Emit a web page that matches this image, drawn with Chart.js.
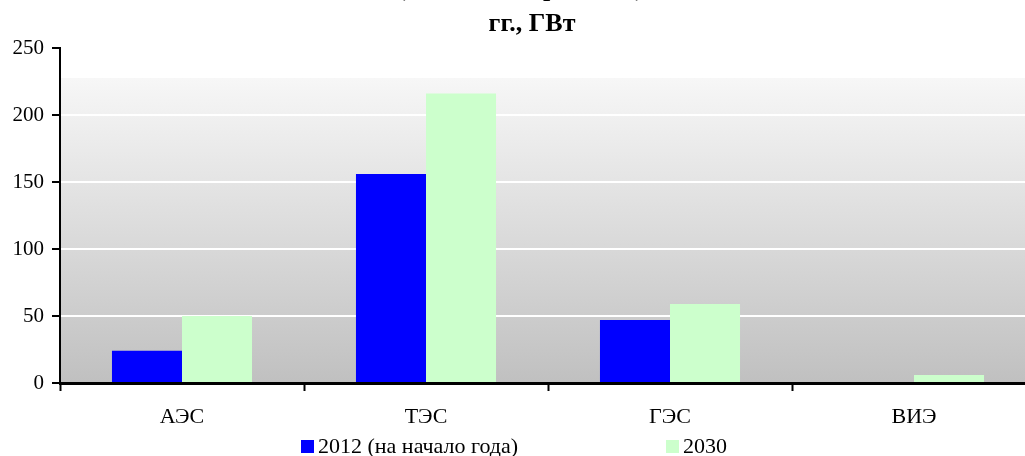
<!DOCTYPE html>
<html>
<head>
<meta charset="utf-8">
<script src="https://cdn.jsdelivr.net/npm/chart.js@4/dist/chart.umd.min.js"></script>
<style>
  html, body { margin: 0; padding: 0; background: #fff; overflow: hidden; }
  #wrap { width: 1040px; height: 456px; }
</style>
</head>
<body>
<div id="wrap"><canvas id="powerChart" width="1040" height="456"></canvas></div>
<script>
const categories = ['АЭС', 'ТЭС', 'ГЭС', 'ВИЭ'];
const values2012 = [24, 156, 47, 0];
const values2030 = [50, 216, 59, 6];
const seriesNames = ['2012 (на начало года)', '2030'];
const yTicks = [0, 50, 100, 150, 200, 250];
const titleLines = ['Установленная мощность электростанций России в 2012-2030', 'гг., ГВт'];

const serif = '"Liberation Serif", "DejaVu Serif", serif';

// gray gradient behind the bars
const plotBackground = {
    id: 'plotBackground',
    beforeDraw(chart) {
        const { ctx, chartArea } = chart;
        const g = ctx.createLinearGradient(0, chartArea.top + 30, 0, chartArea.bottom);
        g.addColorStop(0, '#f7f7f7');
        g.addColorStop(1, '#c0c0c0');
        ctx.save();
        ctx.fillStyle = '#ffffff';
        ctx.fillRect(chartArea.left, chartArea.top, chartArea.width, 30);
        ctx.fillStyle = g;
        ctx.fillRect(chartArea.left, chartArea.top + 30, chartArea.width, chartArea.height - 30);
        ctx.restore();
    }
};

// title (first line cut off at the top) and the spread out legend
const titleAndLegend = {
    id: 'titleAndLegend',
    afterDraw(chart) {
        const ctx = chart.ctx;
        ctx.save();
        ctx.fillStyle = '#000';
        ctx.textAlign = 'center';
        ctx.textBaseline = 'alphabetic';
        ctx.font = 'bold 26px ' + serif;
        ctx.fillText(titleLines[0], 532, -4);
        ctx.fillText(titleLines[1], 532, 31);

        ctx.textAlign = 'left';
        ctx.textBaseline = 'middle';
        ctx.font = '22px ' + serif;
        const legendX = [301, 666];
        chart.data.datasets.forEach((ds, i) => {
            ctx.fillStyle = ds.backgroundColor;
            ctx.fillRect(legendX[i], 440, 13, 13);
            ctx.fillStyle = '#000';
            ctx.fillText(ds.label, legendX[i] + 17, 447);
        });
        ctx.restore();
    }
};

const ctx = document.getElementById('powerChart').getContext('2d');
new Chart(ctx, {
    type: 'bar',
    data: {
        labels: categories,
        datasets: [
            { label: seriesNames[0], data: values2012, backgroundColor: '#0000ff' },
            { label: seriesNames[1], data: values2030, backgroundColor: '#ccffcc' }
        ]
    },
    options: {
        responsive: false,
        animation: false,
        layout: { padding: { top: 48, right: 4, left: 0, bottom: 0 } },
        datasets: { bar: { categoryPercentage: 0.574, barPercentage: 1 } },
        plugins: {
            legend: { display: false },
            title: { display: false },
            tooltip: { enabled: false }
        },
        scales: {
            x: {
                afterFit(scale) { scale.height = 73; },
                grid: {
                    offset: true,
                    drawOnChartArea: false,
                    tickLength: 8,
                    tickColor: '#000',
                    tickWidth: 2
                },
                border: { color: '#000', width: 3 },
                ticks: {
                    color: '#000',
                    font: { family: serif, size: 22 },
                    padding: 13
                }
            },
            y: {
                min: 0,
                max: 250,
                afterFit(scale) { scale.width = 60; },
                afterBuildTicks(scale) { scale.ticks = yTicks.map(v => ({ value: v })); },
                grid: {
                    color: '#ffffff',
                    lineWidth: 2,
                    tickLength: 8,
                    tickColor: '#000',
                    tickWidth: 2
                },
                border: { color: '#000', width: 2 },
                ticks: {
                    color: '#000',
                    font: { family: serif, size: 21 },
                    padding: 8
                }
            }
        }
    },
    plugins: [plotBackground, titleAndLegend]
});
</script>
</body>
</html>
